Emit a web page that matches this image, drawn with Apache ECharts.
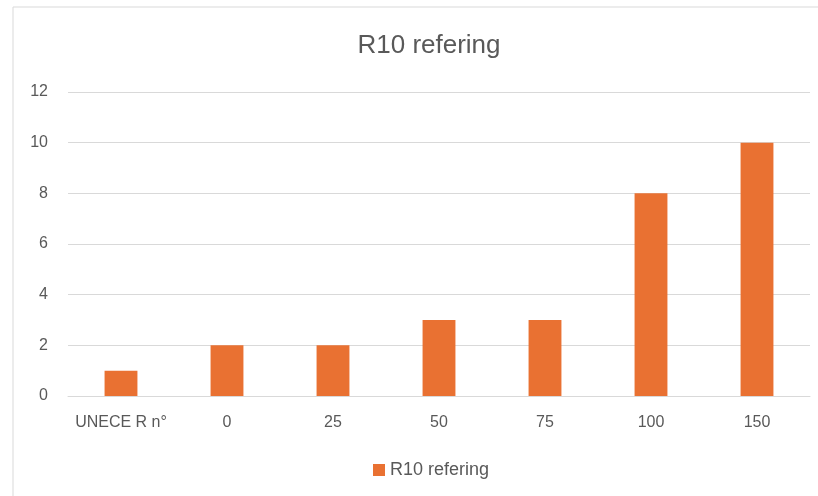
<!DOCTYPE html>
<html><head><meta charset="utf-8">
<script src="https://cdn.jsdelivr.net/npm/echarts@6/dist/echarts.min.js"></script>
<style>html,body{margin:0;padding:0;background:#fff}#c{width:818px;height:496px}</style>
</head><body><div id="c"></div>
<script>
const titleText = "R10 refering";
const seriesName = "R10 refering";
const categories = ["UNECE R n°", "0", "25", "50", "75", "100", "150"];
const values = [1, 2, 2, 3, 3, 8, 10];
const yTicks = [0, 2, 4, 6, 8, 10, 12];

const font = "'Liberation Sans', sans-serif";
const chart = echarts.init(document.getElementById('c'), null, {renderer: 'canvas'});
chart.setOption({
  animation: false,
  backgroundColor: '#fff',
  graphic: [{type: 'rect', shape: {x: 13, y: 7, width: 900, height: 600}, style: {fill: 'none', stroke: '#d9d9d9', lineWidth: 1}, z: -1}],
  title: {text: titleText, left: 424, top: 28, textAlign: 'center',
    textStyle: {fontFamily: font, fontSize: 26, fontWeight: 'normal', color: '#595959'}},
  legend: {top: 456, left: 368, itemWidth: 12, itemHeight: 12, icon: 'rect', itemGap: 6,
    textStyle: {fontFamily: font, fontSize: 18, color: '#595959'}, data: [seriesName]},
  grid: {left: 68, right: 8, top: 92, bottom: 100, containLabel: false},
  xAxis: {type: 'category', data: categories,
    axisLine: {lineStyle: {color: '#d9d9d9', width: 1}}, axisTick: {show: false},
    axisLabel: {interval: 0, fontFamily: font, fontSize: 16, color: '#595959', margin: 19}},
  yAxis: {type: 'value', min: yTicks[0], max: yTicks[yTicks.length-1], interval: 2,
    axisLine: {show: false}, axisTick: {show: false},
    splitLine: {lineStyle: {color: '#d9d9d9', width: 1}},
    axisLabel: {fontFamily: font, fontSize: 16, color: '#595959', margin: 20}},
  series: [{name: seriesName, type: 'bar', data: values, barWidth: '31%',
    itemStyle: {color: '#E97132'}}]
});
</script></body></html>
